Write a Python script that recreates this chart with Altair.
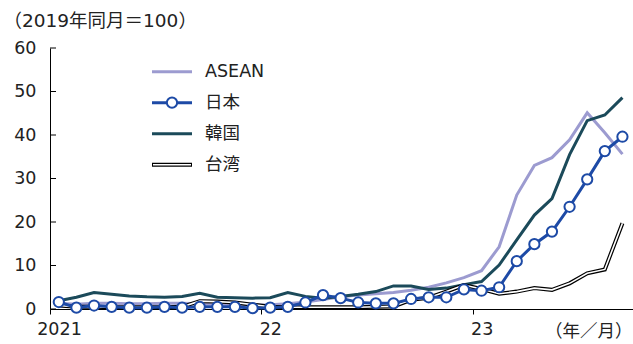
import altair as alt
import pandas as pd

months = list(range(33))  # Jan 2021 .. Sep 2023 (month index)
x_tick_values = [-0.5, 11.5, 23.5]
x_tick_labels = ["2021", "22", "23"]
y_ticks = [0, 10, 20, 30, 40, 50, 60]

series_names = ["ASEAN", "日本", "韓国", "台湾"]
asean = [1.3, 1.1, 1.3, 1.3, 1.2, 1.2, 1.3, 1.3, 1.2, 1.2, 1.0, 0.9, 1.0, 1.2, 1.6, 2.2,
         2.8, 3.2, 3.5, 3.8, 4.3, 5.0, 6.0, 7.2, 8.8, 14.3, 26.2, 33.0, 34.8, 38.9, 45.1, 40.5, 35.6]
japan = [1.6, 0.3, 0.8, 0.5, 0.3, 0.3, 0.5, 0.3, 0.5, 0.5, 0.5, 0.2, 0.3, 0.5, 1.5, 3.2,
         2.5, 1.5, 1.3, 1.3, 2.3, 2.7, 2.7, 4.5, 4.2, 5.0, 11.0, 14.9, 17.8, 23.5, 29.8, 36.3, 39.6]
korea = [1.9, 2.7, 3.8, 3.4, 3.0, 2.8, 2.7, 2.9, 3.6, 2.7, 2.6, 2.5, 2.6, 3.8, 2.9, 2.5,
         2.9, 3.4, 4.0, 5.3, 5.3, 4.5, 4.8, 5.6, 6.3, 10.1, 15.9, 21.6, 25.4, 35.5, 43.3, 44.6, 48.6]
taiwan = [0.8, 0.5, 0.5, 0.4, 0.4, 0.4, 0.4, 0.5, 1.8, 1.7, 1.5, 1.0, 0.5, 0.4, 0.4, 0.4,
          0.4, 0.4, 0.5, 0.6, 2.1, 2.6, 4.0, 5.5, 4.6, 3.5, 4.0, 4.8, 4.4, 5.9, 8.2, 9.1, 19.7]

FONT = "DejaVu Sans, Noto Sans CJK JP"
FS = 17.5
C_ASEAN = "#9c9bd0"
C_JAPAN = "#1d4aa6"
C_KOREA = "#1b4a5a"
TXT = "#222"

df = pd.DataFrame({"m": months, "ASEAN": asean, "日本": japan, "韓国": korea, "台湾": taiwan})

label_expr = " : ".join(
    f"datum.value < {v + 1} ? '{lab}'" for v, lab in zip(x_tick_values[:-1], x_tick_labels[:-1])
) + f" : '{x_tick_labels[-1]}'"

x_enc = alt.X(
    "m:Q",
    scale=alt.Scale(domain=[-0.5, 32.6], nice=False, zero=False),
    axis=alt.Axis(
        values=x_tick_values, labelExpr=label_expr, grid=False, tickSize=5,
        tickColor="black", domainColor="black", labelFlush=False, labelOverlap=False,
        labelOffset=9, labelPadding=6, labelFontSize=FS, labelColor=TXT,
        labelFont=FONT, title="（年／月）", titleFont=FONT, titleFontSize=FS,
        titleFontWeight="normal", titleColor=TXT, titleX=582, titleY=22,
        titleAlign="right", titleBaseline="middle",
    ),
)


def y_enc(field):
    return alt.Y(
        f"{field}:Q",
        scale=alt.Scale(domain=[0, 60], nice=False),
        axis=alt.Axis(
            values=y_ticks, grid=False, ticks=False, domainColor="black",
            labelPadding=14, labelFontSize=FS, labelColor=TXT, labelFont=FONT,
            title="（2019年同月＝100）", titleAngle=0, titleAlign="left",
            titleBaseline="middle", titleX=-47, titleY=-28, titleFont=FONT,
            titleFontSize=18.5, titleFontWeight="normal", titleColor=TXT,
        ),
    )


base = alt.Chart(df)

l_asean = base.mark_line(color=C_ASEAN, strokeWidth=3).encode(x=x_enc, y=y_enc("ASEAN"))
l_korea = base.mark_line(color=C_KOREA, strokeWidth=3).encode(x=x_enc, y=y_enc("韓国"))
l_tw_o = base.mark_line(color="black", strokeWidth=4).encode(x=x_enc, y=y_enc("台湾"))
l_tw_i = base.mark_line(color="white", strokeWidth=1.6).encode(x=x_enc, y=y_enc("台湾"))
l_jp = base.mark_line(color=C_JAPAN, strokeWidth=3).encode(x=x_enc, y=y_enc("日本"))
p_jp = base.mark_point(filled=True, fill="white", stroke=C_JAPAN, strokeWidth=2, size=105, opacity=1).encode(
    x=x_enc, y=y_enc("日本"))

tick_df = pd.DataFrame({"v": y_ticks})
yt = alt.Chart(tick_df).mark_rule(color="black", strokeWidth=1).encode(
    y=alt.Y("v:Q", scale=alt.Scale(domain=[0, 60], nice=False)),
    x=alt.value(0), x2=alt.value(6))

# legend
legend_layers = []
lx1, lx2, ltx = 102, 142, 155
for k, name in enumerate(series_names):
    ypix = 23.7 + 31 * k
    ldf = pd.DataFrame({"name": [name]})
    lb = alt.Chart(ldf)
    if name == "ASEAN":
        legend_layers.append(lb.mark_rule(color=C_ASEAN, strokeWidth=3).encode(
            x=alt.value(lx1), x2=alt.value(lx2), y=alt.value(ypix)))
    elif name == "日本":
        legend_layers.append(lb.mark_rule(color=C_JAPAN, strokeWidth=3).encode(
            x=alt.value(lx1), x2=alt.value(lx2), y=alt.value(ypix)))
        legend_layers.append(lb.mark_point(filled=True, fill="white", stroke=C_JAPAN, strokeWidth=2,
                                           size=105, opacity=1).encode(
            x=alt.value((lx1 + lx2) / 2), y=alt.value(ypix)))
    elif name == "韓国":
        legend_layers.append(lb.mark_rule(color=C_KOREA, strokeWidth=3).encode(
            x=alt.value(lx1), x2=alt.value(lx2), y=alt.value(ypix)))
    else:
        legend_layers.append(lb.mark_rule(color="black", strokeWidth=4).encode(
            x=alt.value(lx1), x2=alt.value(lx2), y=alt.value(ypix)))
        legend_layers.append(lb.mark_rule(color="white", strokeWidth=1.6).encode(
            x=alt.value(lx1 + 1), x2=alt.value(lx2 - 1), y=alt.value(ypix)))
    legend_layers.append(lb.mark_text(align="left", baseline="middle", font=FONT, fontSize=FS,
                                      color=TXT).encode(
        text="name:N", x=alt.value(ltx), y=alt.value(ypix)))

chart = alt.layer(l_asean, l_korea, l_tw_o, l_tw_i, l_jp, p_jp, yt, *legend_layers).properties(
    width=583, height=261,
    autosize=alt.AutoSizeParams(type="none"),
    padding={"left": 50, "top": 48, "right": 0, "bottom": 35},
    background="white",
).configure_view(strokeWidth=0)

chart.save("out.html", embed_options={"renderer": "svg", "actions": False})
